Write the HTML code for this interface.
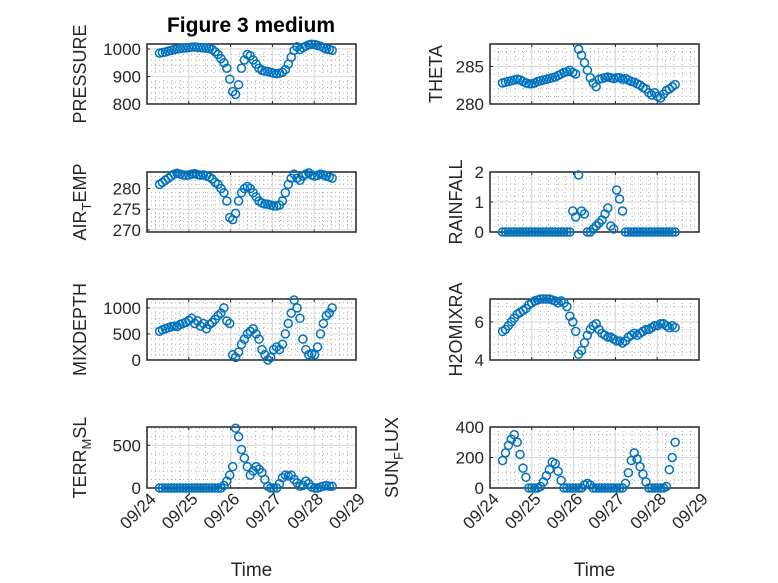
<!DOCTYPE html>
<html><head><meta charset="utf-8"><style>
body{margin:0;background:#fff;}
svg{display:block;font-family:"Liberation Sans","DejaVu Sans",sans-serif;}
</style></head><body>
<svg id="fig" width="778" height="583" viewBox="0 0 778 583">
<rect width="778" height="583" fill="#fff"/>
<text x="251" y="32" font-size="21" font-weight="bold" text-anchor="middle" fill="#000">Figure 3 medium</text>
</svg>
<script>
const times = [0.30,0.37,0.44,0.51,0.58,0.65,0.72,0.79,0.86,0.93,1.00,1.07,1.14,1.21,1.28,1.35,1.42,1.49,1.56,1.63,1.70,1.77,1.84,1.91,1.98,2.05,2.12,2.19,2.26,2.33,2.40,2.47,2.54,2.61,2.68,2.75,2.82,2.89,2.96,3.03,3.10,3.17,3.24,3.31,3.38,3.45,3.52,3.59,3.66,3.73,3.80,3.87,3.94,4.01,4.08,4.15,4.22,4.29,4.36,4.43];
const dayLabels = ["09/24","09/25","09/26","09/27","09/28","09/29"];
const pressure = [985,987,989,992,995,998,1000,1002,1003,1004,1005,1006,1007,1006,1005,1004,1003,1001,998,990,980,965,950,930,890,845,835,870,930,960,980,975,960,945,930,922,920,918,915,912,910,912,915,925,945,970,995,1008,998,1005,1010,1015,1017,1016,1013,1010,1005,1000,998,995];
const airTemp = [281,281.5,282,282.5,283,283.5,283.7,283.5,283.3,283.2,283.3,283.5,283.6,283.4,283.2,283.3,283.1,282.8,282.3,281.5,281,280,279,277,273,272.5,274,277,279,280,280.5,280,279,278,277,276.5,276.3,276.2,276,275.8,275.8,276,277,279,281,282.5,283.5,282.5,282,283,283.5,283.8,283.3,283,283.2,283.5,283.3,283,282.8,282.5];
const theta = [282.8,282.9,283,283.1,283.2,283.3,283.2,283,282.8,282.7,282.7,282.8,283,283.1,283.2,283.3,283.4,283.5,283.6,283.8,284,284.2,284.3,284.5,284.2,284,287.3,286.5,285.5,284.5,283.5,282.8,282.3,283.3,283.4,283.5,283.6,283.5,283.4,283.5,283.5,283.3,283.4,283.2,283,282.9,282.7,282.5,282.2,282,281.5,281.2,281.5,281,280.8,281.3,281.8,282,282.3,282.6];
const rainfall = [0,0,0,0,0,0,0,0,0,0,0,0,0,0,0,0,0,0,0,0,0,0,0,0,0.7,0.5,1.9,0.7,0.6,0,0,0.1,0.2,0.3,0.4,0.6,0.8,0.2,0.1,1.4,1.1,0.7,0,0,0,0,0,0,0,0,0,0,0,0,0,0,0,0,0,0];
const mixDepth = [550,580,600,620,640,650,640,680,700,720,760,800,700,750,650,700,600,680,720,780,850,900,1000,750,700,100,50,150,300,400,500,550,600,500,400,200,100,0,50,200,250,200,300,500,700,900,1150,1000,800,400,200,100,120,100,250,500,700,850,900,1000];
const h2oMix = [5.5,5.6,5.8,6.0,6.2,6.4,6.5,6.6,6.7,6.9,7.0,7.1,7.15,7.2,7.2,7.2,7.2,7.15,7.1,7.0,7.1,7.0,6.8,6.3,6.0,5.5,4.3,4.5,4.9,5.3,5.6,5.8,5.9,5.6,5.4,5.3,5.2,5.2,5.1,5.0,5.0,4.9,5.0,5.2,5.3,5.4,5.3,5.4,5.5,5.6,5.6,5.7,5.8,5.8,5.9,5.9,5.8,5.7,5.8,5.7];
const terrMsl = [0,0,0,0,0,0,0,0,0,0,0,0,0,0,0,0,0,0,0,0,0,0,30,80,150,250,700,600,450,350,250,150,200,250,220,180,100,20,0,0,0,50,120,150,140,150,100,60,20,30,80,50,10,0,0,10,20,30,20,20];
const sunFlux = [180,230,280,320,350,300,220,130,70,0,0,0,0,10,40,80,120,170,160,110,50,0,0,0,0,0,0,0,20,30,20,0,0,0,0,0,0,0,0,0,0,0,30,100,180,230,190,140,90,40,0,0,0,0,0,0,10,120,200,300];

const NS = "http://www.w3.org/2000/svg";
const svg = document.getElementById('fig');
function mk(tag, attrs, parent){ const e=document.createElementNS(NS,tag); for(const k in attrs) e.setAttribute(k,attrs[k]); (parent||svg).appendChild(e); return e; }

const cols = [{x0:147,x1:356},{x0:490,x1:699}];
const rows = [{y0:44,y1:104},{y0:172,y1:232},{y0:299,y1:360},{y0:427,y1:488}];
const pxPerDay = 41.8;

const panels = [
 {name:'pressure',data:pressure,col:0,row:0,ymin:800,ymax:1018,ticks:[800,900,1000],minor:20,label:['PRESSURE']},
 {name:'theta',data:theta,col:1,row:0,ymin:280,ymax:288,ticks:[280,285],minor:1,label:['THETA']},
 {name:'air-temp',data:airTemp,col:0,row:1,ymin:269.5,ymax:284,ticks:[270,275,280],minor:1,label:['AIR','T','EMP']},
 {name:'rainfall',data:rainfall,col:1,row:1,ymin:0,ymax:2,ticks:[0,1,2],minor:0.2,label:['RAINFALL']},
 {name:'mixdepth',data:mixDepth,col:0,row:2,ymin:0,ymax:1170,ticks:[0,500,1000],minor:100,label:['MIXDEPTH']},
 {name:'h2omixra',data:h2oMix,col:1,row:2,ymin:4,ymax:7.2,ticks:[4,6],minor:0.4,label:['H2OMIXRA']},
 {name:'terr-msl',data:terrMsl,col:0,row:3,ymin:0,ymax:714,ticks:[0,500],minor:100,label:['TERR','M','SL']},
 {name:'sun-flux',data:sunFlux,col:1,row:3,ymin:0,ymax:400,ticks:[0,200,400],minor:50,label:['SUN','F','LUX'],labelX:392},
];

panels.forEach(p=>{
  const c=cols[p.col], r=rows[p.row];
  const g=mk('g',{});
  
  
  const xs=d=>c.x0+d*pxPerDay;
  const ys=v=>r.y1-(v-p.ymin)/(p.ymax-p.ymin)*(r.y1-r.y0);
  for(let d=0.2; d<5; d+=0.2){ if(Math.abs(d-Math.round(d))<1e-6) continue; const x=xs(d);
    mk('line',{x1:x,x2:x,y1:r.y0,y2:r.y1,stroke:'#b0b0b0','stroke-width':1,'stroke-dasharray':'1,3'},g); }
  for(let v=Math.ceil(p.ymin/p.minor)*p.minor; v<=p.ymax+1e-9; v+=p.minor){ if(p.ticks.some(t=>Math.abs(t-v)<1e-6)) continue;
    const y=ys(v); mk('line',{x1:c.x0,x2:c.x1,y1:y,y2:y,stroke:'#b0b0b0','stroke-width':1,'stroke-dasharray':'1,3'},g); }
  for(let d=1; d<5; d++){ const x=xs(d);
    mk('line',{x1:x,x2:x,y1:r.y0,y2:r.y1,stroke:'#dcdcdc','stroke-width':1.2},g);
    mk('line',{x1:x,x2:x,y1:r.y1,y2:r.y1-3,stroke:'#262626'},g);
    mk('line',{x1:x,x2:x,y1:r.y0,y2:r.y0+3,stroke:'#262626'},g); }
  let maxChars=0;
  p.ticks.forEach(t=>{ const y=ys(t);
    if(y>r.y0+1 && y<r.y1-1) mk('line',{x1:c.x0,x2:c.x1,y1:y,y2:y,stroke:'#dcdcdc','stroke-width':1.2},g);
    mk('line',{x1:c.x0,x2:c.x0+3,y1:y,y2:y,stroke:'#262626'},g);
    const tl=mk('text',{x:c.x0-6,y:y+6,'font-size':17,'text-anchor':'end',fill:'#262626'},g);
    tl.textContent=t;
    maxChars=Math.max(maxChars,String(t).length);
    
    
  });
  mk('rect',{x:c.x0,y:r.y0,width:c.x1-c.x0,height:r.y1-r.y0,fill:'none',stroke:'#262626','stroke-width':1.5},g);
  p.data.forEach((v,i)=>{
    const pt=mk('circle',{cx:xs(times[i]),cy:ys(v),r:4,fill:'none',stroke:'#0072BD','stroke-width':1.5},g);
    
    
  });
  const center = p.labelX ? p.labelX : (p.col===0 ? 80 : (c.x0 - 6 - maxChars*10 - 18));
  const lx = center + 6;
  const ly=(r.y0+r.y1)/2;
  const yl=mk('text',{x:lx,y:ly,'font-size':18,'text-anchor':'middle',fill:'#262626',transform:`rotate(-90 ${lx} ${ly})`},g);
  
  
  if(p.label.length===1){ yl.textContent=p.label[0]; }
  else {
    const a=mk('tspan',{},yl); a.textContent=p.label[0];
    const b=mk('tspan',{'font-size':13,dy:5},yl); b.textContent=p.label[1];
    const cc=mk('tspan',{dy:-5},yl); cc.textContent=p.label[2];
  }
  if(p.row===3){
    dayLabels.forEach((lab,d)=>{
      const x=xs(d)+10, y=500;
      const t=mk('text',{x:x,y:y,'font-size':17,'text-anchor':'end',fill:'#262626',transform:`rotate(-45 ${x} ${y})`},g);
      t.textContent=lab;
      
      
    });
    const xt=mk('text',{x:(c.x0+c.x1)/2,y:576,'font-size':19,'text-anchor':'middle',fill:'#262626'},g);
    xt.textContent='Time';
    
    
  }
});
</script>
</body></html>
